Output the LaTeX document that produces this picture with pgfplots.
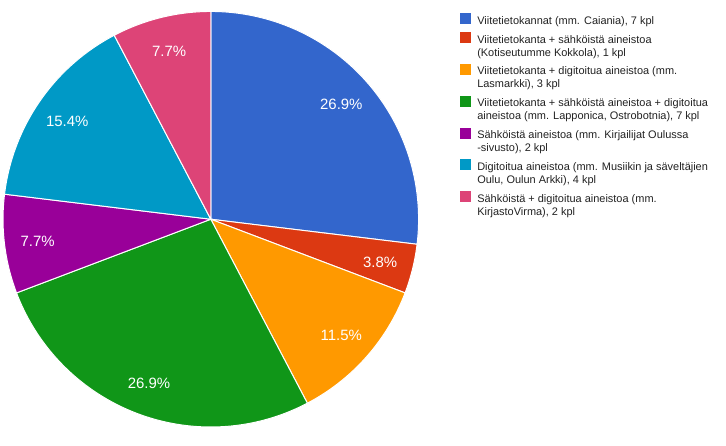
\documentclass[border=0pt]{standalone}
\usepackage{fontspec}
\setmainfont{Liberation Sans}
\usepackage{pgfplots}
\usepackage{pgfplotstable}
\pgfplotsset{compat=1.18}

\definecolor{c0}{HTML}{3366CC}
\definecolor{c1}{HTML}{DC3912}
\definecolor{c2}{HTML}{FF9900}
\definecolor{c3}{HTML}{109618}
\definecolor{c4}{HTML}{990099}
\definecolor{c5}{HTML}{0099C6}
\definecolor{c6}{HTML}{DD4477}
\definecolor{legtext}{HTML}{222222}

% kpl per category, in legend order
\pgfplotstableread{
n
7
1
3
7
2
4
2
}\piedata

% square hangs from the top of the entry, level with its first line
\pgfplotsset{sq/.style={legend image code/.code={\fill[#1] (0pt,-10pt) rectangle (10pt,0pt);}}}
\newcommand\legfont{\fontsize{11}{13}\selectfont}

\begin{document}
\begin{tikzpicture}
\begin{axis}[
  x=1pt, y=1pt,
  xmin=0, xmax=726, ymin=0, ymax=447,
  hide axis, clip=false,
  legend style={at={(axis cs:459,434)}, anchor=north west,
    draw=none, fill=none, inner sep=0pt, outer sep=0pt,
    row sep=4.3pt, column sep=5pt,
    font=\legfont, text=legtext,
    cells={anchor=north west, align=left, inner sep=0pt, font=\legfont}},
]
\path (axis cs:0,0) rectangle (axis cs:726,447);

% total
\def\total{0}
\pgfplotsforeachungrouped \i in {0,...,6}{%
  \pgfplotstablegetelem{\i}{n}\of\piedata
  \pgfmathsetmacro\total{\total+\pgfplotsretval}
}

\def\cum{0}
\pgfplotsforeachungrouped \i in {0,...,6}{%
  \pgfplotstablegetelem{\i}{n}\of\piedata
  \let\n\pgfplotsretval
  \pgfmathsetmacro\a{90-\cum/\total*360}
  \pgfmathsetmacro\b{90-(\cum+\n)/\total*360}
  \pgfmathsetmacro\m{(\a+\b)/2}
  \pgfmathsetmacro\pct{100*\n/\total}
  \pgfmathsetmacro\lx{209+175*cos(\m)}
  \pgfmathsetmacro\ly{226+175*sin(\m)}
  \edef\temp{%
    \noexpand\fill[c\i, draw=white, line width=1pt] (axis cs:209,227) -- ++(\a:208.5pt)
      arc[start angle=\a, end angle=\b, radius=208.5pt] -- cycle;
    \noexpand\node[text=white, font=\noexpand\fontsize{15}{18}\noexpand\selectfont]
      at (axis cs:\lx,\ly) {\noexpand\pgfmathprintnumber[fixed,precision=1,assume math mode=true]{\pct}\noexpand\%};
  }%
  \temp
  \pgfmathsetmacro\cum{\cum+\n}
}

\addlegendimage{sq=c0}
\addlegendentry{\legfont\rule{0pt}{9pt}Viitetietokannat (mm. Caiania), 7 kpl\rule[-4pt]{0pt}{4pt}}
\addlegendimage{sq=c1}
\addlegendentry{\legfont\rule{0pt}{9pt}Viitetietokanta + sähköistä aineistoa\\(Kotiseutumme Kokkola), 1 kpl\rule[-4pt]{0pt}{4pt}}
\addlegendimage{sq=c2}
\addlegendentry{\legfont\rule{0pt}{9pt}Viitetietokanta + digitoitua aineistoa (mm.\\Lasmarkki), 3 kpl\rule[-4pt]{0pt}{4pt}}
\addlegendimage{sq=c3}
\addlegendentry{\legfont\rule{0pt}{9pt}Viitetietokanta + sähköistä aineistoa + digitoitua\\aineistoa (mm. Lapponica, Ostrobotnia), 7 kpl\rule[-4pt]{0pt}{4pt}}
\addlegendimage{sq=c4}
\addlegendentry{\legfont\rule{0pt}{9pt}Sähköistä aineistoa (mm. Kirjailijat Oulussa\\-sivusto), 2 kpl\rule[-4pt]{0pt}{4pt}}
\addlegendimage{sq=c5}
\addlegendentry{\legfont\rule{0pt}{9pt}Digitoitua aineistoa (mm. Musiikin ja säveltäjien\\Oulu, Oulun Arkki), 4 kpl\rule[-4pt]{0pt}{4pt}}
\addlegendimage{sq=c6}
\addlegendentry{\legfont\rule{0pt}{9pt}Sähköistä + digitoitua aineistoa (mm.\\KirjastoVirma), 2 kpl\rule[-4pt]{0pt}{4pt}}
\end{axis}
\end{tikzpicture}
\end{document}
